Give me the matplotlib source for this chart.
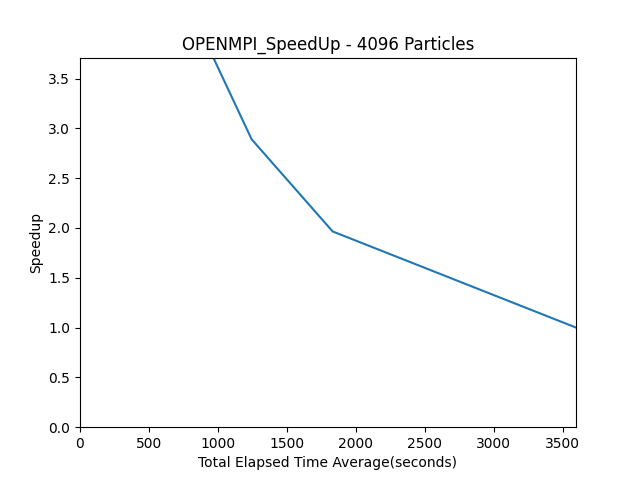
import matplotlib
matplotlib.use("Agg")
import matplotlib.pyplot as plt

# Average elapsed time (seconds) and speedup per run
elapsed_time = [800, 1244, 1831, 3595]
speedup = [4.2, 2.89, 1.965, 1.0]

plt.figure(figsize=(6.4, 4.8), dpi=100)
plt.plot(elapsed_time, speedup)
plt.xlim(0, 3595)
plt.ylim(0, 3.71)
plt.xlabel("Total Elapsed Time Average(seconds)")
plt.ylabel("Speedup")
plt.title("OPENMPI_SpeedUp - 4096 Particles")
plt.savefig("out.png")
plt.close()
